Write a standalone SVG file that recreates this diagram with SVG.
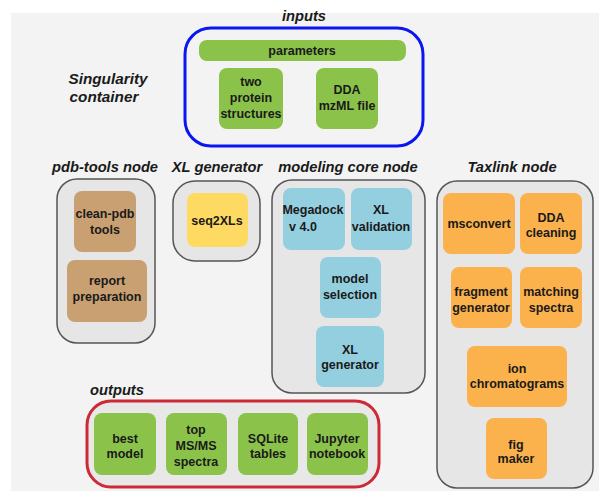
<svg xmlns="http://www.w3.org/2000/svg" width="599" height="491" viewBox="0 0 599 491">
<style>
text{font-family:"Liberation Sans",Arial,sans-serif;font-weight:bold;fill:#1a1a1a;text-anchor:middle}
.t{font-size:12.5px}
.h{font-size:14.7px;font-style:italic}
.node{fill:#e6e6e6;stroke:#555;stroke-width:1.5}
.g{fill:#8bc34a}
.b{fill:#c9a071}
.c{fill:#93cfdf}
.y{fill:#ffda62}
.o{fill:#fbb24c}
</style>
<rect x="11" y="13" width="588" height="478" fill="#f3f3f3"/>
<g id="singularity"><text class="h" x="108" y="84" style="font-size:15.3px">Singularity</text><text class="h" x="104" y="102" style="font-size:15.3px">container</text></g>
<g id="inputs">
<text class="h" x="304" y="21">inputs</text>
<rect x="185" y="28" width="238" height="118" rx="26" fill="#f3f3f3" stroke="#0a16f0" stroke-width="3"/>
<rect class="g" x="199" y="40" width="207" height="21" rx="8"/>
<text class="t" x="302" y="55">parameters</text>
<rect class="g" x="219" y="68" width="64" height="61" rx="8"/>
<text class="t" x="251" y="86">two</text><text class="t" x="251" y="102">protein</text><text class="t" x="251" y="118">structures</text>
<rect class="g" x="316" y="68" width="62" height="61" rx="8"/>
<text class="t" x="347" y="94">DDA</text><text class="t" x="347" y="110">mzML file</text>
</g>
<g id="pdb-tools">
<text class="h" x="105" y="172">pdb-tools node</text>
<rect class="node" x="57" y="179" width="98" height="164" rx="20"/>
<rect class="b" x="74" y="191" width="62" height="61" rx="8"/>
<text class="t" x="105" y="218">clean-pdb</text><text class="t" x="105" y="234">tools</text>
<rect class="b" x="67" y="260" width="80" height="62" rx="8"/>
<text class="t" x="107" y="285">report</text><text class="t" x="107" y="301">preparation</text>
</g>
<g id="xl-generator">
<text class="h" x="217" y="172">XL generator</text>
<rect class="node" x="173" y="181" width="87" height="80" rx="22"/>
<rect class="y" x="187" y="193" width="61" height="54" rx="8"/>
<text class="t" x="217" y="225">seq2XLs</text>
</g>
<g id="modeling-core">
<text class="h" x="348" y="172">modeling core node</text>
<rect class="node" x="272" y="180" width="153" height="213" rx="20"/>
<rect class="c" x="283" y="188" width="62" height="62" rx="8"/>
<text class="t" x="313" y="214">Megadock</text><text class="t" x="303" y="231">v 4.0</text>
<rect class="c" x="351" y="188" width="61" height="62" rx="8"/>
<text class="t" x="381" y="214">XL</text><text class="t" x="381" y="231">validation</text>
<rect class="c" x="320" y="257" width="61" height="61" rx="8"/>
<text class="t" x="350" y="283">model</text><text class="t" x="350" y="299">selection</text>
<rect class="c" x="316" y="326" width="68" height="61" rx="8"/>
<text class="t" x="350" y="354">XL</text><text class="t" x="350" y="369">generator</text>
</g>
<g id="taxlink">
<text class="h" x="512" y="172">Taxlink node</text>
<rect class="node" x="437" y="181" width="156" height="307" rx="20"/>
<rect class="o" x="443" y="193" width="72" height="61" rx="8"/>
<text class="t" x="479" y="228">msconvert</text>
<rect class="o" x="520" y="193" width="62" height="61" rx="8"/>
<text class="t" x="551" y="222">DDA</text><text class="t" x="551" y="237">cleaning</text>
<rect class="o" x="451" y="267" width="61" height="61" rx="8"/>
<text class="t" x="481" y="296">fragment</text><text class="t" x="481" y="312">generator</text>
<rect class="o" x="520" y="267" width="62" height="61" rx="8"/>
<text class="t" x="551" y="296">matching</text><text class="t" x="551" y="312">spectra</text>
<rect class="o" x="467" y="346" width="100" height="61" rx="8"/>
<text class="t" x="517" y="373">ion</text><text class="t" x="517" y="388">chromatograms</text>
<rect class="o" x="486" y="418" width="61" height="61" rx="8"/>
<text class="t" x="516" y="449">fig</text><text class="t" x="516" y="463">maker</text>
</g>
<g id="outputs">
<text class="h" x="117" y="395">outputs</text>
<rect x="87" y="401" width="292" height="86" rx="24" fill="#e8e8e8" stroke="#cc2a36" stroke-width="3"/>
<rect class="g" x="94" y="413" width="62" height="62" rx="8"/>
<text class="t" x="125" y="443">best</text><text class="t" x="125" y="458">model</text>
<rect class="g" x="166" y="413" width="61" height="62" rx="8"/>
<text class="t" x="196" y="434">top</text><text class="t" x="196" y="450">MS/MS</text><text class="t" x="196" y="466">spectra</text>
<rect class="g" x="238" y="413" width="60" height="62" rx="8"/>
<text class="t" x="268" y="443">SQLite</text><text class="t" x="268" y="458">tables</text>
<rect class="g" x="307" y="413" width="61" height="62" rx="8"/>
<text class="t" x="337" y="443">Jupyter</text><text class="t" x="337" y="458">notebook</text>
</g>
<g id="connectors"/>
</svg>
